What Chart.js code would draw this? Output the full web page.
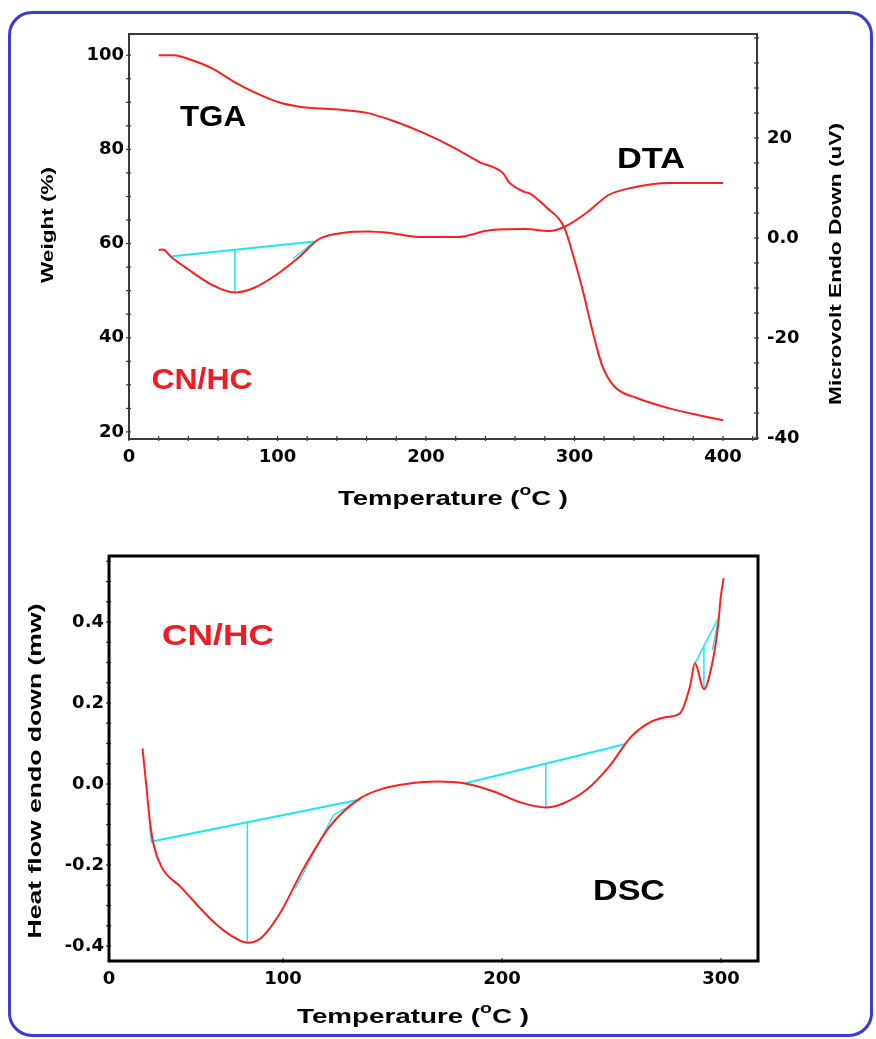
<!DOCTYPE html>
<html>
<head>
<meta charset="utf-8">
<script src="https://cdn.jsdelivr.net/npm/chart.js@4.4.0/dist/chart.umd.min.js"></script>
<style>
  html, body { margin: 0; padding: 0; background: #fff; }
  body { width: 876px; height: 1039px; position: relative; overflow: hidden; }
  #frame { position: absolute; left: 8px; top: 11px; width: 859px; height: 1020px;
           border: 3px solid #3b3bd6; border-radius: 24px; }
  .box { position: absolute; left: 0; width: 876px; }
  #top { top: 0; height: 520px; }
  #bot { top: 520px; height: 519px; }
</style>
</head>
<body>
<div id="frame"></div>
<div class="box" id="top"><canvas id="tga-chart"></canvas></div>
<div class="box" id="bot"><canvas id="dsc-chart"></canvas></div>
<script>
// TGA / DTA (top)
const tgaTemp   = [20, 30, 41, 56, 71, 86, 101, 116, 139, 161, 180, 199, 218, 236, 252, 256, 266, 270, 281, 293, 300, 306, 312, 319, 327, 342, 364, 383, 400];
const tgaWeight = [100, 100, 99.1, 97.2, 94.3, 91.9, 90, 89, 88.5, 87.7, 85.8, 83.4, 80.5, 77.3, 74.9, 73, 71, 70.6, 67.7, 63.5, 56.5, 49.5, 41.6, 33.8, 29.6, 27.2, 25, 23.6, 22.5];

const dtaTemp   = [20, 23, 28, 39, 56, 71, 84, 99, 115, 128, 146, 160, 176, 195, 221, 244, 267, 283, 293, 308, 323, 338, 364, 400];
const dtaSignal = [-2.4, -2.3, -3.7, -6.1, -9.4, -10.9, -10, -7.4, -3.7, -0.2, 1.1, 1.3, 1, 0.2, 0.2, 1.6, 1.8, 1.4, 2.2, 5, 8.6, 10, 11, 11];

const dtaBaseTemp = [27.6, 125.2],   dtaBaseSignal = [-3.7, -0.7];
const dtaDropTemp = [71.3, 71.3],    dtaDropSignal = [-2.3, -11];
const dtaTanTemp  = [110.5, 125],    dtaTanSignal  = [-4.1, -0.7];

const tempTicksTop   = [0, 100, 200, 300, 400];
const weightTicks    = [20, 40, 60, 80, 100];
const microvoltTicks = [-40, -20, 0, 20];

// DSC (bottom)
const dscTemp = [35.8, 37.6, 39.1, 40.9, 44.4, 53.2, 68.9, 75.9, 83.7, 89.8, 98.6, 109, 121.3, 135.3, 145.8, 156.3, 170.3, 182.5, 196.5, 208.7, 220, 227.9, 238.4, 248.9, 259, 266.7, 275.6, 281.3, 285.8, 288.1, 292.2, 295.7, 298.6, 299.9, 301.2];
const dscHeat = [0.088, -0.007, -0.089, -0.150, -0.204, -0.254, -0.344, -0.373, -0.392, -0.381, -0.319, -0.212, -0.105, -0.035, -0.011, 0, 0.006, 0.002, -0.019, -0.046, -0.058, -0.048, -0.015, 0.043, 0.117, 0.15, 0.166, 0.175, 0.24, 0.298, 0.234, 0.29, 0.388, 0.462, 0.508];

const dscBase1Temp = [39.2, 40, 135.3],   dscBase1Heat = [-0.105, -0.142, -0.038];
const dscDrop1Temp = [83.7, 83.7],        dscDrop1Heat = [-0.095, -0.392];
const dscTan1Temp  = [105.6, 123, 135.3], dscTan1Heat  = [-0.258, -0.077, -0.038];
const dscBase2Temp = [183.3, 256.5],      dscBase2Heat = [0.002, 0.099];
const dscDrop2Temp = [220, 220],          dscDrop2Heat = [0.049, -0.058];
const dscBase3Temp = [288.1, 299.1],      dscBase3Heat = [0.298, 0.413];
const dscDrop3Temp = [292.2, 292.2],      dscDrop3Heat = [0.341, 0.234];
const dscTan3Temp  = [296.1, 299.1],      dscTan3Heat  = [0.331, 0.413];

const tempTicksBottom  = [20.5, 100, 200, 300];
const tempLabelsBottom = ['0', '100', '200', '300'];
const heatTicks = [-0.4, -0.2, 0, 0.2, 0.4];

const RED = '#ff1f1f';
const CYAN = '#1ee6f2';

function pts(xs, ys) {
    return xs.map((x, i) => ({ x: x, y: ys[i] }));
}

function curve(data, color, width, axis, smooth) {
    return {
        data: data,
        borderColor: color,
        borderWidth: width,
        pointRadius: 0,
        fill: false,
        yAxisID: axis,
        cubicInterpolationMode: smooth ? 'monotone' : 'default',
        tension: 0
    };
}

const tickFont = { family: '"DejaVu Sans"', weight: 'bold', size: 18 };

// text with a horizontal stretch to match the original's wide lettering
function drawText(ctx, parts, cx, cy, targetLen, angle, color) {
    ctx.save();
    ctx.translate(cx, cy);
    ctx.rotate(angle || 0);
    let w = 0;
    parts.forEach(p => {
        ctx.font = 'bold ' + p.size + 'px "Liberation Sans", Arial, sans-serif';
        p.w = ctx.measureText(p.t).width;
        w += p.w;
    });
    ctx.scale(targetLen / w, 1);
    ctx.fillStyle = color || '#000';
    ctx.textAlign = 'left';
    ctx.textBaseline = 'middle';
    let x = -w / 2;
    parts.forEach(p => {
        ctx.font = 'bold ' + p.size + 'px "Liberation Sans", Arial, sans-serif';
        ctx.fillText(p.t, x, p.dy || 0);
        x += p.w;
    });
    ctx.restore();
}

function tempTitle(size) {
    return [{ t: 'Temperature (', size: size }, { t: 'o', size: size * 0.7, dy: -size * 0.38 }, { t: 'C )', size: size }];
}

const decorPlugin = {
    id: 'decor',
    afterDatasetsDraw(chart, args, opts) {
        const ctx = chart.ctx;
        const a = chart.chartArea;
        ctx.save();
        // small tick marks
        ctx.strokeStyle = '#333';
        ctx.lineWidth = 1.2;
        (opts.marks || []).forEach(m => {
            const s = chart.scales[m.axis];
            for (let v = m.from; v <= m.to + 1e-9; v += m.step) {
                const p = s.getPixelForValue(v);
                ctx.beginPath();
                if (m.side === 'left')  { ctx.moveTo(a.left - 3, p);  ctx.lineTo(a.left + 2, p); }
                if (m.side === 'right') { ctx.moveTo(a.right - 3, p); ctx.lineTo(a.right + 2, p); }
                if (m.side === 'bottom'){ ctx.moveTo(p, a.bottom - 3); ctx.lineTo(p, a.bottom + 2); }
                ctx.stroke();
            }
        });
        // frame
        ctx.strokeStyle = opts.frameColor;
        ctx.lineWidth = opts.frameWidth;
        ctx.strokeRect(a.left, a.top, a.right - a.left, a.bottom - a.top);
        ctx.restore();
        (opts.texts || []).forEach(t => drawText(ctx, t.parts, t.x, t.y, t.len, t.angle, t.color));
    }
};

// top chart: TGA + DTA
new Chart(document.getElementById('tga-chart').getContext('2d'), {
    type: 'line',
    data: {
        datasets: [
            curve(pts(tgaTemp, tgaWeight), RED, 2, 'y', true),
            curve(pts(dtaTemp, dtaSignal), RED, 2, 'y2', true),
            curve(pts(dtaBaseTemp, dtaBaseSignal), CYAN, 2, 'y2', false),
            curve(pts(dtaDropTemp, dtaDropSignal), CYAN, 1.5, 'y2', false),
            curve(pts(dtaTanTemp, dtaTanSignal), CYAN, 1.5, 'y2', false)
        ]
    },
    options: {
        responsive: true,
        maintainAspectRatio: false,
        animation: false,
        layout: { padding: { top: 34, left: 0, right: 0, bottom: 0 } },
        plugins: {
            legend: { display: false },
            tooltip: { enabled: false },
            decor: {
                frameColor: '#3a3a3a',
                frameWidth: 2,
                marks: [
                    { axis: 'y', side: 'left', from: 20, to: 100, step: 5 },
                    { axis: 'y2', side: 'right', from: -40, to: 40, step: 5 },
                    { axis: 'x', side: 'bottom', from: 0, to: 420, step: 20 }
                ],
                texts: [
                    { parts: [{ t: 'TGA', size: 30 }], x: 213, y: 118, len: 66 },
                    { parts: [{ t: 'DTA', size: 30 }], x: 651, y: 160, len: 68 },
                    { parts: [{ t: 'CN/HC', size: 30 }], x: 202, y: 381, len: 101, color: '#ee1c25' },
                    { parts: tempTitle(20), x: 453, y: 499, len: 230 },
                    { parts: [{ t: 'Weight (%)', size: 17 }], x: 48, y: 225, len: 116, angle: -Math.PI / 2 },
                    { parts: [{ t: 'Microvolt Endo Down (uV)', size: 17 }], x: 836, y: 264, len: 282, angle: -Math.PI / 2 }
                ]
            }
        },
        scales: {
            x: {
                type: 'linear',
                min: 0,
                max: 422.9,
                grid: { display: false, drawTicks: false },
                border: { display: false },
                ticks: { font: tickFont, color: '#000', padding: 8, maxRotation: 0 },
                afterBuildTicks: s => { s.ticks = tempTicksTop.map(v => ({ value: v })); },
                afterFit: s => { s.height = 81; }
            },
            y: {
                position: 'left',
                min: 18.5,
                max: 104.5,
                grid: { display: false, drawTicks: false },
                border: { display: false },
                ticks: { font: tickFont, color: '#000', padding: 5 },
                afterBuildTicks: s => { s.ticks = weightTicks.map(v => ({ value: v })); },
                afterFit: s => { s.width = 129; }
            },
            y2: {
                position: 'right',
                min: -40.2,
                max: 40.8,
                grid: { display: false, drawTicks: false },
                border: { display: false },
                ticks: { font: tickFont, color: '#000', padding: 10,
                         callback: v => v === 0 ? '0.0' : String(v) },
                afterBuildTicks: s => { s.ticks = microvoltTicks.map(v => ({ value: v })); },
                afterFit: s => { s.width = 119; }
            }
        }
    },
    plugins: [decorPlugin]
});

// bottom chart: DSC
new Chart(document.getElementById('dsc-chart').getContext('2d'), {
    type: 'line',
    data: {
        datasets: [
            curve(pts(dscTemp, dscHeat), RED, 2, 'y', true),
            curve(pts(dscBase1Temp, dscBase1Heat), CYAN, 2, 'y', false),
            curve(pts(dscDrop1Temp, dscDrop1Heat), CYAN, 1.5, 'y', false),
            curve(pts(dscTan1Temp, dscTan1Heat), CYAN, 1.5, 'y', false),
            curve(pts(dscBase2Temp, dscBase2Heat), CYAN, 2, 'y', false),
            curve(pts(dscDrop2Temp, dscDrop2Heat), CYAN, 1.5, 'y', false),
            curve(pts(dscBase3Temp, dscBase3Heat), CYAN, 1.5, 'y', false),
            curve(pts(dscDrop3Temp, dscDrop3Heat), CYAN, 1.5, 'y', false),
            curve(pts(dscTan3Temp, dscTan3Heat), CYAN, 1.5, 'y', false)
        ]
    },
    options: {
        responsive: true,
        maintainAspectRatio: false,
        animation: false,
        layout: { padding: { top: 36, left: 0, right: 118, bottom: 0 } },
        plugins: {
            legend: { display: false },
            tooltip: { enabled: false },
            decor: {
                frameColor: '#000',
                frameWidth: 3,
                marks: [
                    { axis: 'y', side: 'left', from: -0.4, to: 0.55, step: 0.05 },
                    { axis: 'x', side: 'bottom', from: 100, to: 300, step: 100 }
                ],
                texts: [
                    { parts: [{ t: 'CN/HC', size: 30 }], x: 218, y: 117, len: 112, color: '#ee1c25' },
                    { parts: [{ t: 'DSC', size: 30 }], x: 629, y: 372, len: 72 },
                    { parts: tempTitle(20), x: 413, y: 497, len: 232 },
                    { parts: [{ t: 'Heat flow endo down (mw)', size: 19 }], x: 36, y: 251, len: 335, angle: -Math.PI / 2 }
                ]
            }
        },
        scales: {
            x: {
                type: 'linear',
                min: 20.5,
                max: 316.9,
                grid: { display: false, drawTicks: false },
                border: { display: false },
                ticks: { font: tickFont, color: '#000', padding: 8, maxRotation: 0,
                         callback: (v, i) => tempLabelsBottom[i] },
                afterBuildTicks: s => { s.ticks = tempTicksBottom.map(v => ({ value: v })); },
                afterFit: s => { s.height = 78; }
            },
            y: {
                position: 'left',
                min: -0.437,
                max: 0.563,
                grid: { display: false, drawTicks: false },
                border: { display: false },
                ticks: { font: tickFont, color: '#000', padding: 5,
                         callback: v => Number(v).toFixed(1) },
                afterBuildTicks: s => { s.ticks = heatTicks.map(v => ({ value: v })); },
                afterFit: s => { s.width = 109; }
            }
        }
    },
    plugins: [decorPlugin]
});
</script>
</body>
</html>
